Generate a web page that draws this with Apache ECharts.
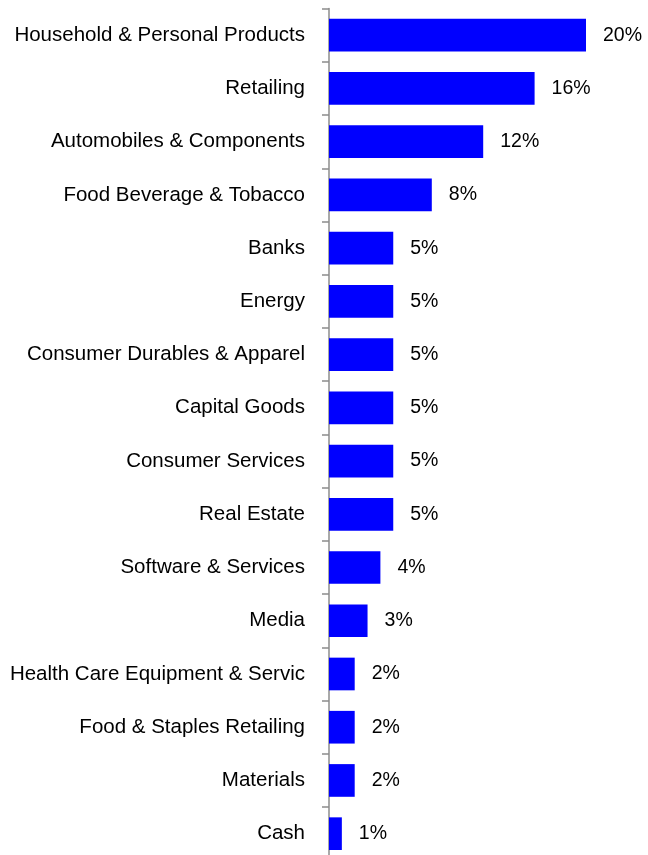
<!DOCTYPE html>
<html><head><meta charset="utf-8">
<script src="https://cdn.jsdelivr.net/npm/echarts@6/dist/echarts.min.js"></script>
<style>html,body{margin:0;padding:0;background:#fff;overflow:hidden}#c{width:648px;height:880px}</style>
</head><body><div id="c"></div>
<script>
const categories = ["Household & Personal Products","Retailing","Automobiles & Components","Food Beverage & Tobacco","Banks","Energy","Consumer Durables & Apparel","Capital Goods","Consumer Services","Real Estate","Software & Services","Media","Health Care Equipment & Servic","Food & Staples Retailing","Materials","Cash"];
const values = [20,16,12,8,5,5,5,5,5,5,4,3,2,2,2,1];
const chart = echarts.init(document.getElementById('c'));
const font = 'Liberation Sans';
chart.setOption({
  animation:false,
  grid:{left:329,top:8.6,width:257,height:851.7,containLabel:false},
  xAxis:{type:'value',min:0,max:20,show:false},
  yAxis:{type:'category',inverse:true,data:categories,
    axisLine:{lineStyle:{color:'#8c8c8c',width:1.5}},
    axisTick:{show:true,length:7,lineStyle:{color:'#8c8c8c',width:1.5}},
    axisLabel:{margin:24,color:'#000',fontSize:20.5,fontFamily:font,padding:[3,0,0,0]}},
  series:[{type:'bar',data:values,barCategoryGap:'38.6%',
    itemStyle:{color:'#0000ff'},
    label:{show:true,position:'right',distance:17,color:'#000',fontSize:19.5,fontFamily:font,padding:[3,0,0,0],formatter:p=>p.value+'%'}}]
});
</script></body></html>
